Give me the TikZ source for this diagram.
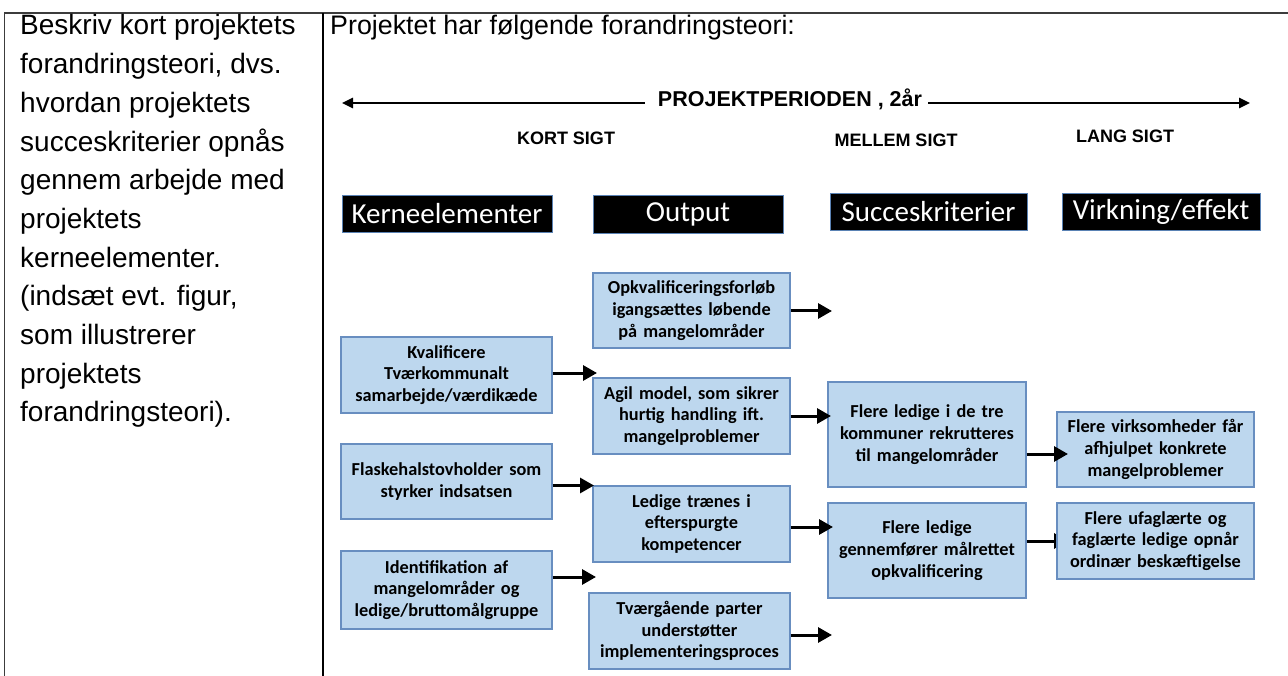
\documentclass[tikz,border=0pt]{standalone}
\usepackage{fontspec}
\setmainfont{Liberation Sans}
\newfontfamily\calfont{Carlito}
\usetikzlibrary{arrows.meta}
\definecolor{boxfill}{RGB}{189,215,238}
\definecolor{boxline}{RGB}{104,142,192}
\definecolor{hdrline}{RGB}{90,130,180}
\definecolor{rulec}{RGB}{60,60,60}
\begin{document}
\begin{tikzpicture}[x=1pt,y=-1pt,
  bbox/.style={draw=boxline, fill=boxfill, line width=1.2pt, align=center, inner sep=1pt,
    font=\calfont\bfseries\fontsize{18.3}{21.7}\selectfont},
  hbox/.style={draw=hdrline, fill=black, text=white, line width=0.8pt, inner sep=0pt,
    font=\calfont\fontsize{29}{30}\selectfont},
  arr/.style={line width=3pt, -{Triangle[length=14pt,width=15pt]}},
  tarr/.style={line width=2.5pt, -{Triangle[length=11pt,width=10pt]}},
  sigt/.style={font=\bfseries\fontsize{18}{20}\selectfont, inner sep=0pt, anchor=base}
]
\useasboundingbox (0,0) rectangle (1288,676);
% table lines
\draw[rulec, line width=1.6pt] (4,13) -- (1288,13);
\draw[rulec, line width=1.6pt] (4.5,13) -- (4.5,676);
\draw[black, line width=2.6pt] (323,13) -- (323,676);
% left column text
\node[anchor=north west, inner sep=0pt, align=left, font=\fontsize{28}{38.7}\selectfont] (lefttxt) at (20,14.5)
 {Beskriv kort projektets\\forandringsteori, dvs.\\hvordan projektets\\succeskriterier opnås\\gennem arbejde med\\projektets\\kerneelementer.\\(indsæt evt. figur,\\som illustrerer\\projektets\\forandringsteori).};
\node[anchor=base west, inner sep=0pt, font=\fontsize{26.8}{30}\selectfont] (righttxt) at (330,35)
 {Projektet har følgende forandringsteori:};
% timeline
\node[sigt, font=\bfseries\fontsize{21.5}{22}\selectfont] (pp) at (790,107) {PROJEKTPERIODEN , 2år};
\coordinate (tl) at (342,103);
\coordinate (tr) at (1250,103);
\draw[tarr] ([xshift=-13pt]pp.west |- tl) -- (tl);
\draw[tarr] ([xshift=6pt]pp.east |- tr) -- (tr);
\node[sigt] (kort) at (566,145) {KORT SIGT};
\node[sigt] (mellem) at (896,147) {MELLEM SIGT};
\node[sigt] (lang) at (1125,143) {LANG SIGT};
% headers
\node[hbox, minimum width=210, minimum height=37] (hK) at (447,213.5) {Kerneelementer};
\node[hbox, minimum width=190, minimum height=38] (hO) at (688,214) {Output};
\node[hbox, minimum width=197, minimum height=37] (hS) at (928.5,211.5) {Succeskriterier};
\node[hbox, minimum width=198, minimum height=37] (hV) at (1161,211.5) {Virkning/effekt};
% column 1
\node[bbox, minimum width=211, minimum height=76, text width=207] (kval) at (446.5,375) {Kvalificere\\Tværkommunalt\\samarbejde/værdikæde};
\node[bbox, minimum width=211, minimum height=75, text width=207] (flask) at (446.5,481.5) {Flaskehalstovholder som\\styrker indsatsen};
\node[bbox, minimum width=211, minimum height=78, text width=207] (ident) at (446.5,590) {Identifikation af\\mangelområder og\\ledige/bruttomålgruppe};
% column 2
\node[bbox, minimum width=197, minimum height=75, text width=193] (opk) at (691.5,310.5) {Opkvalificeringsforløb\\igangsættes løbende\\på mangelområder};
\node[bbox, minimum width=197, minimum height=76, text width=193] (agil) at (691.5,416) {Agil model, som sikrer\\hurtig handling ift.\\mangelproblemer};
\node[bbox, minimum width=197, minimum height=76, text width=193] (ledige) at (691.5,524) {Ledige trænes i\\efterspurgte\\kompetencer};
\node[bbox, minimum width=201, minimum height=76, text width=197] (tvaer) at (689.5,631) {Tværgående parter\\understøtter\\implementeringsproces};
% column 3
\node[bbox, minimum width=198, minimum height=105, text width=194] (suc1) at (927,434.5) {Flere ledige i de tre\\kommuner rekrutteres\\til mangelområder};
\node[bbox, minimum width=198, minimum height=95, text width=194] (suc2) at (927,550.5) {Flere ledige\\gennemfører målrettet\\opkvalificering};
% arrows column 1 -> 2
\coordinate (a1) at (597,373);
\coordinate (a2) at (594,485.5);
\coordinate (a3) at (596,577);
\draw[arr] (kval.east |- a1) -- (a1);
\draw[arr] (flask.east |- a2) -- (a2);
\draw[arr] (ident.east |- a3) -- (a3);
% arrows column 2 -> 3
\coordinate (b1) at (832,311);
\coordinate (b2) at (831,416);
\coordinate (b3) at (833,527);
\coordinate (b4) at (832,635);
\draw[arr] (opk.east |- b1) -- (b1);
\draw[arr] (agil.east |- b2) -- (b2);
\draw[arr] (ledige.east |- b3) -- (b3);
\draw[arr] (tvaer.east |- b4) -- (b4);
% arrows column 3 -> 4
\coordinate (c2) at (1068,541);
\draw[arr] (suc2.east |- c2) -- (c2);
% column 4
\node[bbox, minimum width=197, minimum height=75, text width=193] (virk1) at (1155.5,449.5) {Flere virksomheder får\\afhjulpet konkrete\\mangelproblemer};
\node[bbox, minimum width=197, minimum height=76, text width=193] (virk2) at (1155.5,541) {Flere ufaglærte og\\faglærte ledige opnår\\ordinær beskæftigelse};
\coordinate (c1) at (1068,454);
\draw[arr] (suc1.east |- c1) -- (c1);
\end{tikzpicture}
\end{document}
